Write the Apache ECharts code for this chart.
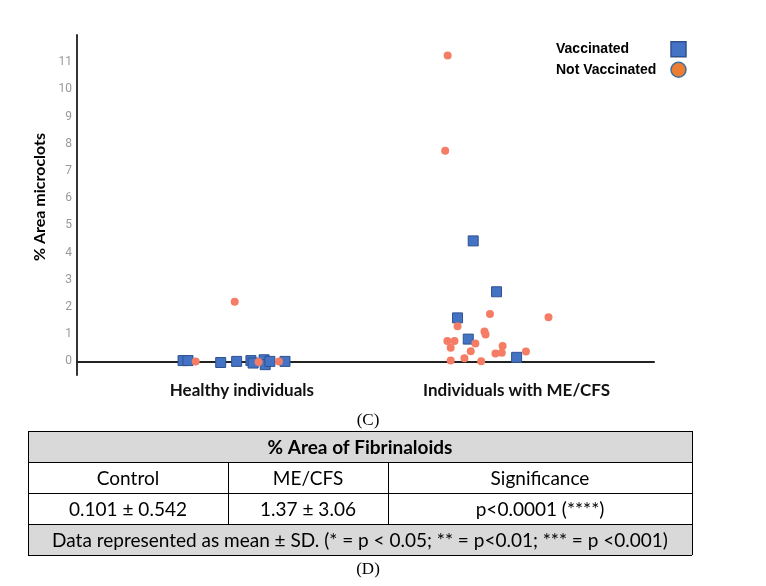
<!DOCTYPE html>
<html>
<head>
<meta charset="utf-8">
<title>% Area microclots</title>
<script src="https://cdn.jsdelivr.net/npm/echarts@6/dist/echarts.min.js"></script>
<style>
  html, body { margin: 0; padding: 0; background: #fff; }
  #main { width: 766px; height: 586px; }
</style>
</head>
<body>
<div id="main"></div>
<script>
// groups on the x axis (value positions 1 and 2)
var categories = ["Healthy individuals", "Individuals with ME/CFS"];
var yTicks = [0, 1, 2, 3, 4, 5, 6, 7, 8, 9, 10, 11];

// points: [jitter from group centre, % area]
var healthyVaccinated = [
  [-0.214, 0.03], [-0.196, 0.03], [-0.077, -0.04], [-0.019, 0], [0.033, 0.03],
  [0.041, -0.06], [0.081, 0.06], [0.085, -0.12], [0.102, 0], [0.157, 0]
];
var healthyNotVaccinated = [
  [-0.168, 0], [-0.026, 2.19], [0.061, -0.02], [0.135, 0]
];
var mecfsVaccinated = [
  [-0.158, 4.43], [-0.073, 2.56], [-0.215, 1.60], [-0.176, 0.82], [0.000, 0.15]
];
var mecfsNotVaccinated = [
  [-0.251, 11.25], [-0.260, 7.74], [-0.097, 1.74], [0.116, 1.62], [-0.215, 1.29],
  [-0.117, 1.10], [-0.113, 0.99], [-0.150, 0.66], [-0.252, 0.75], [-0.226, 0.75],
  [-0.240, 0.50], [-0.167, 0.37], [-0.051, 0.57], [-0.077, 0.29], [-0.054, 0.32],
  [0.034, 0.36], [-0.240, 0.03], [-0.190, 0.12], [-0.129, 0.01]
];

// table under the chart
var tableTitle = "% Area of Fibrinaloids";
var tableHead = ["Control", "ME/CFS", "Significance"];
var tableRow = ["0.101 \u00b1 0.542", "1.37 \u00b1 3.06", "p<0.0001 (****)"];
var tableNote = "Data represented as mean \u00b1 SD. (* = p < 0.05; ** = p<0.01; *** = p <0.001)";

function place(points, pos) {
  return points.map(function (p) { return [pos + p[0], p[1]]; });
}

var chart = echarts.init(document.getElementById("main"));

// table layout
var tL = 28, tR = 692;
var rowY = [431, 462, 493, 524, 555];
var colX = [tL, 228, 388, tR];
var cellFont = '19px Lato';
var graphic = [];
graphic.push({ type: 'rect', shape: { x: tL, y: rowY[0], width: tR - tL, height: rowY[1] - rowY[0] }, style: { fill: '#d9d9d9' } });
graphic.push({ type: 'rect', shape: { x: tL, y: rowY[3], width: tR - tL, height: rowY[4] - rowY[3] }, style: { fill: '#d9d9d9' } });
rowY.forEach(function (y) {
  graphic.push({ type: 'line', shape: { x1: tL, y1: y + 0.5, x2: tR, y2: y + 0.5 }, style: { stroke: '#000', lineWidth: 1 } });
});
graphic.push({ type: 'line', shape: { x1: tL + 0.5, y1: rowY[0], x2: tL + 0.5, y2: rowY[4] }, style: { stroke: '#000', lineWidth: 1 } });
graphic.push({ type: 'line', shape: { x1: tR + 0.5, y1: rowY[0], x2: tR + 0.5, y2: rowY[4] }, style: { stroke: '#000', lineWidth: 1 } });
[colX[1], colX[2]].forEach(function (x) {
  graphic.push({ type: 'line', shape: { x1: x + 0.5, y1: rowY[1], x2: x + 0.5, y2: rowY[3] }, style: { stroke: '#000', lineWidth: 1 } });
});
function cellText(txt, cx, cy, font) {
  graphic.push({ type: 'text', x: cx, y: cy, style: { text: txt, font: font, fill: '#000', align: 'center', verticalAlign: 'middle' } });
}
cellText(tableTitle, (tL + tR) / 2, (rowY[0] + rowY[1]) / 2 + 1, 'bold 19px Lato');
for (var i = 0; i < 3; i++) {
  cellText(tableHead[i], (colX[i] + colX[i + 1]) / 2, (rowY[1] + rowY[2]) / 2 + 1, cellFont);
  cellText(tableRow[i], (colX[i] + colX[i + 1]) / 2, (rowY[2] + rowY[3]) / 2 + 1, cellFont);
}
cellText(tableNote, (tL + tR) / 2, (rowY[3] + rowY[4]) / 2 + 1, cellFont);
cellText("(C)", 368, 421, '17px "Liberation Serif"');
cellText("(D)", 368, 570, '17px "Liberation Serif"');

var option = {
  animation: false,
  backgroundColor: '#fff',
  grid: { left: 77, right: 112, top: 35, bottom: 211 },
  legend: {
    orient: 'vertical',
    left: 551,
    top: 36,
    align: 'right',
    itemWidth: 15,
    itemHeight: 15,
    itemGap: 4,
    formatter: '{a|{name}}',
    textStyle: {
      fontFamily: '"Liberation Sans", Arial',
      fontWeight: 'bold',
      fontSize: 14,
      color: '#000',
      rich: { a: { width: 110, align: 'left', fontFamily: '"Liberation Sans", Arial', fontWeight: 'bold', fontSize: 14, color: '#000' } }
    },
    data: [
      { name: 'Vaccinated', icon: 'rect', itemStyle: { color: '#4472C4', borderColor: '#2F528F', borderWidth: 1.5 } },
      { name: 'Not Vaccinated', icon: 'circle', itemStyle: { color: '#ED7D31', borderColor: '#41719C', borderWidth: 1.5 } }
    ]
  },
  xAxis: {
    type: 'value',
    min: 0.4,
    max: 2.5,
    splitLine: { show: false },
    axisTick: { show: false },
    axisLine: { show: true, lineStyle: { color: '#222', width: 2 } },
    axisLabel: {
      customValues: [1, 2],
      formatter: function (v) { return categories[Math.round(v) - 1]; },
      margin: 7,
      fontFamily: 'Lato',
      fontWeight: 'bold',
      fontSize: 17,
      color: '#111'
    }
  },
  yAxis: {
    type: 'value',
    min: -0.5,
    max: 12,
    name: '% Area microclots',
    nameLocation: 'middle',
    nameGap: 23,
    nameTextStyle: { fontFamily: 'Lato', fontWeight: 'bold', fontSize: 16, color: '#000', padding: [0, 0, 0, 16] },
    splitLine: { show: false },
    axisTick: { show: false },
    axisLine: { show: true, lineStyle: { color: '#333', width: 2 } },
    axisLabel: {
      customValues: yTicks,
      margin: 5,
      fontFamily: 'Roboto',
      fontSize: 12,
      color: '#999'
    }
  },
  graphic: graphic,
  series: [
    {
      name: 'Vaccinated',
      type: 'scatter',
      symbol: 'rect',
      symbolSize: 10,
      itemStyle: { color: '#4472C4', borderColor: '#2F528F', borderWidth: 1, opacity: 1 },
      data: place(healthyVaccinated, 1).concat(place(mecfsVaccinated, 2))
    },
    {
      name: 'Not Vaccinated',
      type: 'scatter',
      symbol: 'circle',
      symbolSize: 8,
      itemStyle: { color: '#F57D65', opacity: 1 },
      data: place(healthyNotVaccinated, 1).concat(place(mecfsNotVaccinated, 2))
    }
  ]
};
chart.setOption(option);
</script>
</body>
</html>
